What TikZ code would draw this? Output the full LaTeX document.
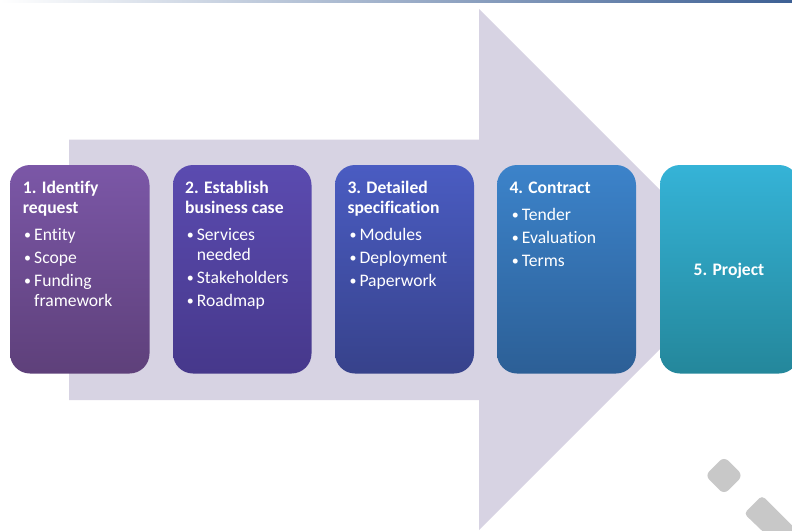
\documentclass[tikz,border=0pt]{standalone}
\usepackage{fontspec}
\setmainfont{Carlito}[Ligatures={NoCommon}]
\begin{document}
\begin{tikzpicture}[x=1pt,y=-1pt,
  stepbox/.style={rounded corners=20pt},
  txt/.style={inner sep=0pt, anchor=base west, text=white,
    font=\fontsize{17.6}{20}\selectfont},
  ttl/.style={txt, font=\fontsize{17.6}{20}\selectfont\bfseries},
  blt/.style={txt, font=\fontsize{14}{16}\selectfont, yshift=0.6pt},
  deco/.style={fill=decogray, draw=none}]
\definecolor{arrowfill}{HTML}{D7D3E3}
\definecolor{decogray}{HTML}{C8C8C8}
\definecolor{stripL}{HTML}{FFFFFF}
\definecolor{stripR}{HTML}{3D6094}
\definecolor{aT}{HTML}{7B57A7}\definecolor{aB}{HTML}{5E407A}
\definecolor{bT}{HTML}{5B4BB0}\definecolor{bB}{HTML}{46388B}
\definecolor{cT}{HTML}{4A5CC2}\definecolor{cB}{HTML}{37428B}
\definecolor{dT}{HTML}{3C83CA}\definecolor{dB}{HTML}{2C5F96}
\definecolor{eT}{HTML}{35B3D7}\definecolor{eB}{HTML}{24879B}

\useasboundingbox (0,0) rectangle (792,530);
\begin{scope}
\clip (0,0) rectangle (792,530);

% thin gradient rule along the top edge
\shade[left color=stripL, right color=stripR] (0,0) rectangle (792,2.4);

% large background arrow
\fill[arrowfill] (69,139.5) -- (479,139.5) -- (479,9) -- (739.5,269.5)
  -- (479,530) -- (479,400) -- (69,400) -- cycle;

% step boxes
\shade[stepbox, top color=aT, bottom color=aB] (10,165) rectangle (149.5,373.5);
\shade[stepbox, top color=bT, bottom color=bB] (173,165) rectangle (311.5,373.5);
\shade[stepbox, top color=cT, bottom color=cB] (335,165) rectangle (474,373.5);
\shade[stepbox, top color=dT, bottom color=dB] (497,165) rectangle (636,373.5);
\shade[stepbox, top color=eT, bottom color=eB] (660,165) rectangle (799,373.5);

% step 1
\node[ttl] (s1a) at (22.7,193.3) {1. Identify};
\node[ttl] (s1b) at (22.7,213.3) {request};
\node[blt] (s1c) at (24,240) {•};   \node[txt] (s1d) at (34,240) {Entity};
\node[blt] (s1e) at (24,263) {•};   \node[txt] (s1f) at (34,263) {Scope};
\node[blt] (s1g) at (24,286) {•};   \node[txt] (s1h) at (34,286) {Funding};
\node[txt] (s1i) at (34,306) {framework};

% step 2
\node[ttl] (s2a) at (185,193.3) {2. Establish};
\node[ttl] (s2b) at (185,213.3) {business case};
\node[blt] (s2c) at (186.7,240) {•}; \node[txt] (s2d) at (196.7,240) {Services};
\node[txt] (s2e) at (196.7,260) {needed};
\node[blt] (s2f) at (186.7,283) {•}; \node[txt] (s2g) at (196.7,283) {Stakeholders};
\node[blt] (s2h) at (186.7,306) {•}; \node[txt] (s2i) at (196.7,306) {Roadmap};

% step 3
\node[ttl] (s3a) at (347.3,193.3) {3. Detailed};
\node[ttl] (s3b) at (347.3,213.3) {specification};
\node[blt] (s3c) at (349.3,240) {•}; \node[txt] (s3d) at (359.3,240) {Modules};
\node[blt] (s3e) at (349.3,263) {•}; \node[txt] (s3f) at (359.3,263) {Deployment};
\node[blt] (s3g) at (349.3,286) {•}; \node[txt] (s3h) at (359.3,286) {Paperwork};

% step 4
\node[ttl] (s4a) at (509.3,193.3) {4. Contract};
\node[blt] (s4b) at (511.7,220) {•}; \node[txt] (s4c) at (521.7,220) {Tender};
\node[blt] (s4d) at (511.7,243) {•}; \node[txt] (s4e) at (521.7,243) {Evaluation};
\node[blt] (s4f) at (511.7,266) {•}; \node[txt] (s4g) at (521.7,266) {Terms};

% step 5
\node[ttl, anchor=base] (s5a) at (729,275) {5. Project};

% grey ornaments, lower right
\fill[deco, rounded corners=6pt] (705,475.5) -- (724,456.5) -- (743,475.5)
  -- (724,494.5) -- cycle;
\fill[deco, rounded corners=4pt] (762,495.5) -- (852,585.5) -- (836,601.5)
  -- (744,513.5) -- cycle;
\end{scope}
\end{tikzpicture}
\end{document}
